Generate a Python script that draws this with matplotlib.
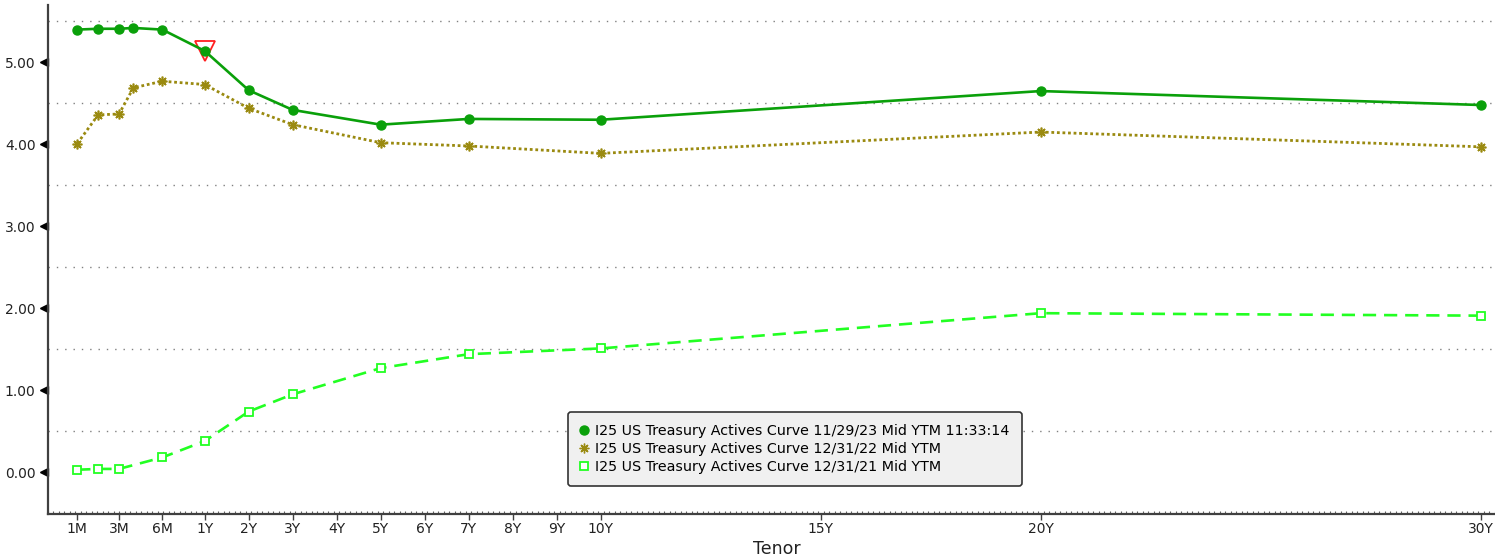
import numpy as np
import matplotlib
matplotlib.use("Agg")
import matplotlib.pyplot as plt
from matplotlib.lines import Line2D
import matplotlib.transforms as mtransforms

# tenors in years
tenor_23 = [1/12, 2/12, 3/12, 4/12, 0.5, 1, 2, 3, 5, 7, 10, 20, 30]
ytm_23 = [5.40, 5.41, 5.41, 5.42, 5.40, 5.14, 4.66, 4.42, 4.24, 4.31, 4.30, 4.65, 4.48]

tenor_22 = [1/12, 2/12, 3/12, 4/12, 0.5, 1, 2, 3, 5, 7, 10, 20, 30]
ytm_22 = [4.01, 4.36, 4.37, 4.69, 4.77, 4.73, 4.44, 4.24, 4.02, 3.98, 3.89, 4.15, 3.97]

tenor_21 = [1/12, 2/12, 3/12, 0.5, 1, 2, 3, 5, 7, 10, 20, 30]
ytm_21 = [0.03, 0.04, 0.04, 0.18, 0.38, 0.74, 0.95, 1.27, 1.44, 1.51, 1.94, 1.91]

tick_tenors = [1/12, 0.25, 0.5, 1, 2, 3, 4, 5, 6, 7, 8, 9, 10, 15, 20, 30]
tick_labels = ["1M", "3M", "6M", "1Y", "2Y", "3Y", "4Y", "5Y", "6Y", "7Y",
               "8Y", "9Y", "10Y", "15Y", "20Y", "30Y"]

labels = ["I25 US Treasury Actives Curve 11/29/23 Mid YTM 11:33:14",
          "I25 US Treasury Actives Curve 12/31/22 Mid YTM",
          "I25 US Treasury Actives Curve 12/31/21 Mid YTM"]

# bloomberg style axis: short end stretched, then linear in years
knot_t = np.array([-1.0, 1/12, 0.25, 0.5, 1.0, 100.0])
knot_p = np.array([-193.5, 77.3, 119.0, 162.3, 204.7, 204.7 + 99 * 44.0])

def fwd(t):
    return np.interp(t, knot_t, knot_p)

def inv(p):
    return np.interp(p, knot_p, knot_t)

c23 = "#0aa00a"
c22 = "#9a8a10"
c21 = "#22ff22"

fig = plt.figure(figsize=(14.95, 5.59), dpi=100)
ax = fig.add_axes([48/1495, 1 - 514/559, 1 - 48/1495, (514 - 5)/559])
ax.set_xscale("function", functions=(fwd, inv))

ax.plot(tenor_23, ytm_23, color=c23, lw=1.9, marker="o", ms=6.5, zorder=4)
ax.plot(tenor_22, ytm_22, color=c22, lw=2.0, ls=(0, (1, 1)), marker=(8, 2, 0),
        ms=7, mew=1.2, zorder=3)
ax.plot(tenor_21, ytm_21, color=c21, lw=1.9, ls=(0, (5, 3)), marker="s", ms=6,
        mfc="white", mec=c21, mew=1.3, zorder=3)
# last-point marker
ax.plot([tenor_23[5]], [ytm_23[5]], marker="v", ms=14, mfc="none",
        mec="#ff2020", mew=1.3, zorder=3.5)

ax.set_xlim(inv(48), inv(1495))
ax.set_ylim(-0.51, 5.70)

ax.set_xticks(tick_tenors)
ax.set_xticklabels(tick_labels)
ax.set_xticks(inv(np.arange(48, 1495, 5.5)), minor=True)
ax.tick_params(axis="x", which="major", length=4, width=1, color="#404040",
               labelsize=10, labelcolor="#222222", pad=2)
ax.tick_params(axis="x", which="minor", direction="in", length=2.5, width=0.8,
               color="#606060")

ax.set_yticks(np.arange(0, 5.01, 1.0))
ax.set_yticklabels([f"{v:.2f}" for v in np.arange(0, 5.01, 1.0)])
ax.tick_params(axis="y", length=0, labelsize=10, labelcolor="#222222", pad=9)

for yv in np.arange(0.5, 5.51, 1.0):
    ax.axhline(yv, color="#808080", lw=1, ls=(0, (1, 5)), zorder=1)

# triangle tick markers on the y axis
trans = mtransforms.blended_transform_factory(ax.transAxes, ax.transData) + \
    mtransforms.ScaledTranslation(-4/100, 0, fig.dpi_scale_trans)
ax.plot(np.zeros(6), np.arange(0, 5.01, 1.0), ls="none", marker="<", ms=6,
        color="black", transform=trans, clip_on=False)

for s in ["top", "right"]:
    ax.spines[s].set_visible(False)
for s in ["left", "bottom"]:
    ax.spines[s].set_color("#404040")
    ax.spines[s].set_linewidth(1.6)

ax.set_xlabel("Tenor", fontsize=12.5, color="#222222")
ax.xaxis.set_label_coords((776.5 - 48) / 1447, -0.051)

handles = [
    Line2D([], [], ls="none", marker="o", ms=6.5, color=c23),
    Line2D([], [], ls="none", marker=(8, 2, 0), ms=7, color=c22, mew=1.0),
    Line2D([], [], ls="none", marker="s", ms=5.5, mfc="white", mec=c21, mew=1.3),
]
leg = ax.legend(handles, labels, loc="lower left",
                bbox_to_anchor=((568 - 48) / 1447, (514 - 486) / 509),
                borderaxespad=0, fontsize=10.3, handlelength=0.6,
                handletextpad=0.45, labelspacing=0.28, borderpad=0.85,
                frameon=True, fancybox=True, framealpha=1)
leg.get_frame().set_facecolor("#f0f0f0")
leg.get_frame().set_edgecolor("#333333")
leg.get_frame().set_linewidth(1.2)

fig.savefig("out.png", dpi=100)
